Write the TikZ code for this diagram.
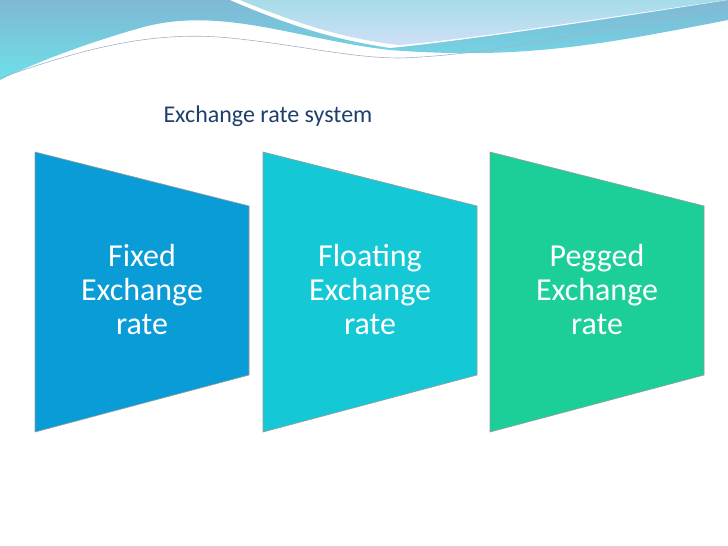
\documentclass[tikz,border=0pt]{standalone}
\usepackage{fontspec}
\setmainfont{Carlito}
\definecolor{fixedblue}{HTML}{0A9CD6}
\definecolor{floatteal}{HTML}{14C8D6}
\definecolor{peggreen}{HTML}{1CCF98}
\definecolor{titleblue}{HTML}{1F3F6E}
\definecolor{wavetop}{HTML}{7FB8D4}
\definecolor{wavecyan}{HTML}{6EE0EA}
\definecolor{wavelight}{HTML}{A6DCE8}
\usetikzlibrary{positioning}
\tikzset{
  panel/.style={draw=black!40, line width=0.6pt},
  paneltext/.style={text=white, font=\fontsize{32}{34}\selectfont, align=center}
}
\begin{document}
\begin{tikzpicture}[x=1pt, y=-1pt]
        % Page
        \useasboundingbox (0,0) rectangle (728,546);
        \fill[white] (0,0) rectangle (728,546);

        % Top wave
        \shade[top color=wavetop, bottom color=wavecyan] (0,0) -- (728,0) -- (728,20)
            .. controls (600,45) and (520,60) .. (390,50)
            .. controls (300,40) and (220,5) .. (140,28)
            .. controls (80,45) and (30,65) .. (0,80) -- cycle;
        \fill[white] (230,0) .. controls (300,30) and (340,40) .. (390,48)
            .. controls (470,40) and (600,20) .. (728,0) -- cycle;
        \shade[top color=wavelight, bottom color=wavelight!80!blue!40] (240,0) .. controls (300,25) and (350,40) .. (400,45)
            .. controls (480,38) and (600,18) .. (728,0) -- cycle;
        \draw[titleblue!40, line width=0.6pt] (0,78) .. controls (80,50) and (150,30) .. (230,38)
            .. controls (300,45) and (350,58) .. (400,58) .. controls (500,55) and (620,25) .. (728,5);

        % Title
        \node[text=titleblue, font=\fontsize{24}{26}\selectfont, anchor=west] (title) at (160,116) {Exchange rate system};

        % Panels
        \fill[fixedblue] (35,152) -- (249,206) -- (249,375) -- (35,432) -- cycle;
        \draw[panel] (35,152) -- (249,206) -- (249,375) -- (35,432) -- cycle;
        \fill[floatteal] (263,152) -- (477,206) -- (477,375) -- (263,432) -- cycle;
        \draw[panel] (263,152) -- (477,206) -- (477,375) -- (263,432) -- cycle;
        \fill[peggreen] (490,152) -- (704,206) -- (704,375) -- (490,432) -- cycle;
        \draw[panel] (490,152) -- (704,206) -- (704,375) -- (490,432) -- cycle;

        % Panel texts
        \node[paneltext] (fixed) at (142,290) {Fixed\\Exchange\\rate};
        \node[paneltext] (floating) at (370,290) {Floating\\Exchange\\rate};
        \node[paneltext] (pegged) at (597,290) {Pegged\\Exchange\\rate};
\end{tikzpicture}
\end{document}
